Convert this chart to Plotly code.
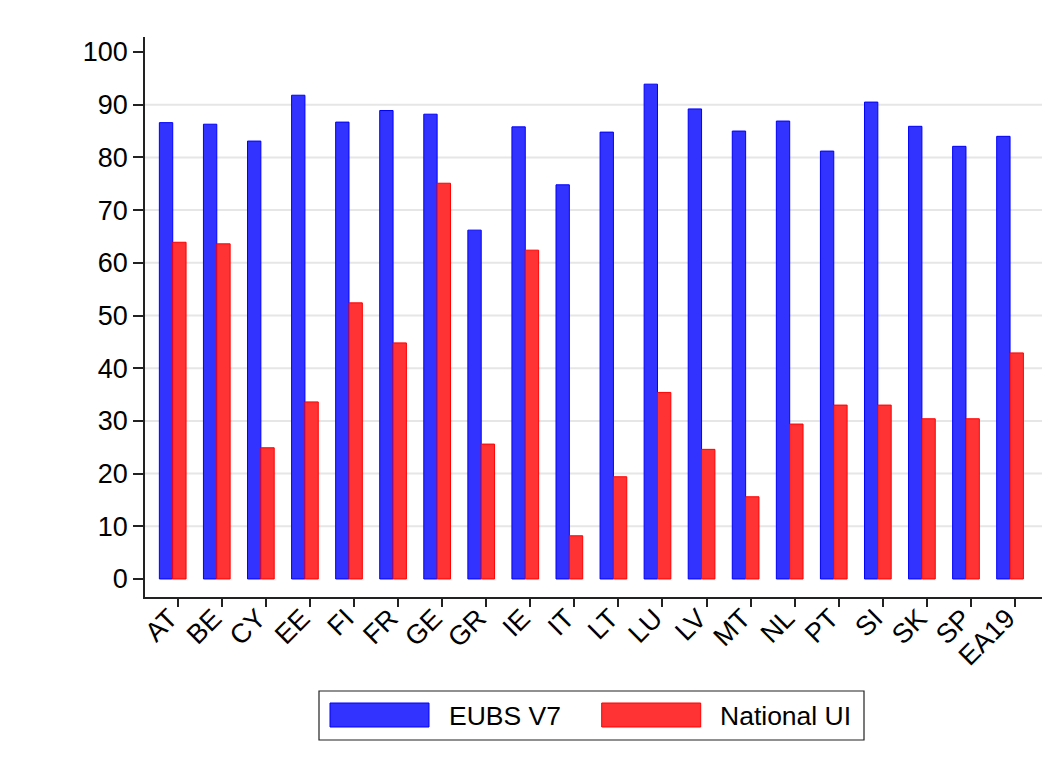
import plotly.graph_objects as go

# ---- data ----
countries = ["AT", "BE", "CY", "EE", "FI", "FR", "GE", "GR", "IE", "IT",
             "LT", "LU", "LV", "MT", "NL", "PT", "SI", "SK", "SP", "EA19"]
eubs_v7 = [86.6, 86.3, 83.1, 91.8, 86.7, 88.9, 88.2, 66.2, 85.8, 74.8,
           84.8, 93.9, 89.2, 85.0, 86.9, 81.2, 90.5, 85.9, 82.1, 84.0]
national_ui = [63.9, 63.6, 24.9, 33.6, 52.4, 44.8, 75.1, 25.6, 62.4, 8.2,
               19.4, 35.4, 24.6, 15.6, 29.4, 33.0, 33.0, 30.4, 30.4, 42.9]
series_names = ["EUBS V7", "National UI"]
y_ticks = list(range(0, 101, 10))
grid_values = list(range(10, 100, 10))

# ---- style ----
OFF = 8  # page body margin in the browser
W, H = 1055 - OFF, 766 - OFF
# plot area in page pixels
PL, PR, PT_, PB = 145, 1042, 37, 597
L, R, T, B = PL - OFF, PR - OFF, PT_ - OFF, PB - OFF
FONT = "Liberation Sans, Arial, sans-serif"
TICK_SIZE = 27
LEG_SIZE = 26.5
blue_fill, blue_line = "#3333ff", "#0000ff"
red_fill, red_line = "#ff3333", "#ff0000"

idx = list(range(len(countries)))
tick_shift = 0.113

fig = go.Figure()
fig.add_trace(go.Bar(x=idx, y=eubs_v7, name=series_names[0],
                     marker=dict(color=blue_fill, line=dict(color=blue_line, width=1))))
fig.add_trace(go.Bar(x=idx, y=national_ui, name=series_names[1],
                     marker=dict(color=red_fill, line=dict(color=red_line, width=1))))

# gridlines (only interior ticks, as in the reference)
for g in grid_values:
    fig.add_shape(type="line", xref="paper", x0=0, x1=1, yref="y", y0=g, y1=g,
                  line=dict(color="#e6e6e6", width=2), layer="below")

def px_x(p):
    return (p - PL) / (PR - PL)

def px_y(p):
    return (PB - p) / (PB - PT_)

# manual legend (wide swatches like the reference)
fig.add_shape(type="rect", xref="paper", yref="paper",
              x0=px_x(319), x1=px_x(864), y0=px_y(691), y1=px_y(740),
              line=dict(color="#222222", width=1.2), fillcolor="white")
legend_items = [
    (series_names[0], blue_fill, blue_line, 330, 429, 447),
    (series_names[1], red_fill, red_line, 601.7, 700.7, 718.3),
]
for name, fc, lc, sx0, sx1, tx in legend_items:
    fig.add_shape(type="rect", xref="paper", yref="paper",
                  x0=px_x(sx0), x1=px_x(sx1), y0=px_y(703), y1=px_y(727),
                  line=dict(color=lc, width=1), fillcolor=fc)
    fig.add_annotation(xref="paper", yref="paper", x=px_x(tx), y=px_y(716),
                       text=name, showarrow=False, xanchor="left", yanchor="middle",
                       font=dict(family=FONT, size=LEG_SIZE, color="black"))

fig.update_layout(
    width=W, height=H,
    margin=dict(l=L, r=W - R, t=T, b=H - B, pad=0),
    paper_bgcolor="white", plot_bgcolor="white",
    barmode="group", bargap=0.394, bargroupgap=0,
    showlegend=False,
    font=dict(family=FONT, size=TICK_SIZE, color="black"),
)
fig.update_xaxes(
    range=[-0.629, 19.725],
    tickmode="array",
    tickvals=[i + tick_shift for i in idx],
    ticktext=countries,
    tickangle=-45,
    ticklabelstandoff=-15,
    ticklabelshift=-8,
    ticks="outside", ticklen=8, tickwidth=1.5, tickcolor="#222222",
    showline=True, linecolor="#222222", linewidth=1.5,
    showgrid=False, zeroline=False,
    tickfont=dict(family=FONT, size=TICK_SIZE, color="black"),
)
fig.update_yaxes(
    range=[-3.42, 102.85],
    tickmode="array", tickvals=y_ticks,
    ticks="outside", ticklen=10, tickwidth=1.5, tickcolor="#222222",
    showline=True, linecolor="#222222", linewidth=1.5,
    showgrid=False, zeroline=False,
    tickfont=dict(family=FONT, size=TICK_SIZE, color="black"),
)

fig.write_html("out.html")
